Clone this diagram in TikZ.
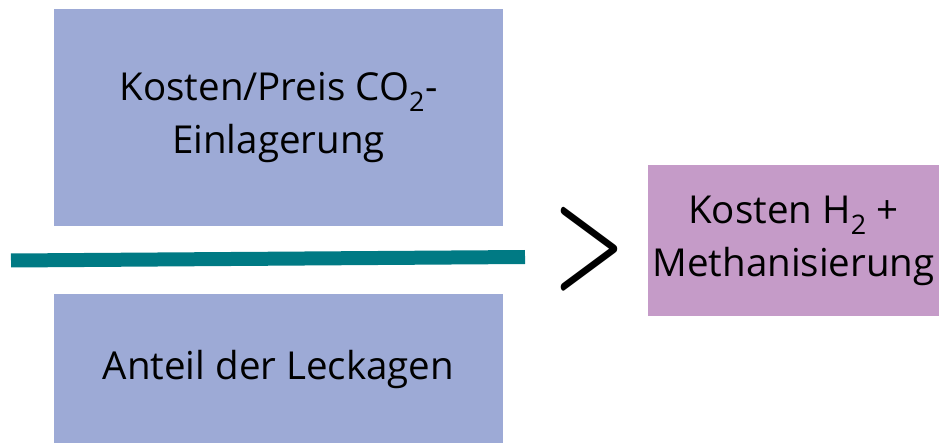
\documentclass[tikz,border=0pt]{standalone}
\usepackage{fontspec}
\setmainfont{Open Sans}
\usepackage{graphicx}
\definecolor{boxblue}{RGB}{157,170,214}
\definecolor{boxviolet}{RGB}{197,155,200}
\definecolor{barteal}{RGB}{0,122,132}
\begin{document}
\begin{tikzpicture}[x=1pt,y=-1pt,
  panel/.style={draw=none,inner sep=0pt,align=center,
    font=\fontsize{38.5}{53}\selectfont},
  bluepanel/.style={panel,fill=boxblue},
  violetpanel/.style={panel,fill=boxviolet}]
  \useasboundingbox (0,0) rectangle (939,443);
  % cost boxes on the left, fraction bar between them
  \node[bluepanel,minimum width=449pt,minimum height=217pt] (cost) at (278.5,118)
    {Kosten/Preis CO\textsubscript{2}-\\Einlagerung};
  \node[bluepanel,minimum width=449pt,minimum height=150pt] (leak) at (278.5,369)
    {Anteil der Leckagen};
  \coordinate (barL) at (11,260.5);
  \coordinate (barR) at (525,257);
  \draw[barteal,line width=14pt] (barL) -- (barR);
  % comparison sign
  \node[inner sep=0pt] (gt) at (590,249.5) {\resizebox{72pt}{73pt}{\boldmath$>$}};
  % hydrogen + methanation box
  \node[violetpanel,minimum width=291pt,minimum height=151pt] (hyd) at (793.5,241)
    {Kosten H\textsubscript{2} +\\Methanisierung};
\end{tikzpicture}
\end{document}
